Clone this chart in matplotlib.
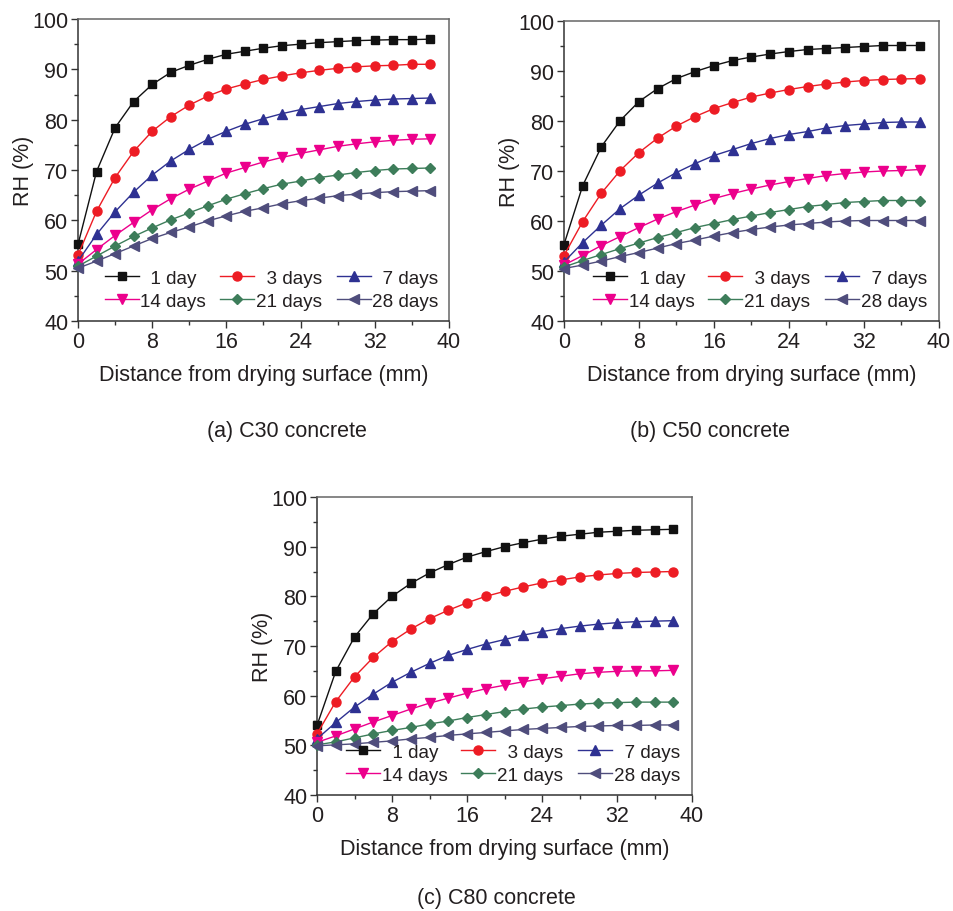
import matplotlib
matplotlib.use("Agg")
import matplotlib.pyplot as plt
from matplotlib.ticker import MultipleLocator

# distance from drying surface (mm)
distance = [0, 2, 4, 6, 8, 10, 12, 14, 16, 18, 20, 22, 24, 26, 28, 30, 32, 34, 36, 38]
ages = ["1 day", "3 days", "7 days", "14 days", "21 days", "28 days"]

c30_rh = [
    [55.2, 69.7, 78.4, 83.6, 87.0, 89.4, 90.8, 92.0, 93.0, 93.6, 94.2, 94.7, 95.0, 95.3, 95.5, 95.7, 95.8, 95.9, 95.9, 96.0],
    [53.1, 61.8, 68.5, 73.7, 77.7, 80.6, 82.9, 84.7, 86.1, 87.1, 88.0, 88.7, 89.3, 89.8, 90.2, 90.5, 90.7, 90.8, 91.0, 91.0],
    [51.9, 57.2, 61.7, 65.6, 69.0, 71.8, 74.1, 76.1, 77.7, 79.1, 80.2, 81.2, 82.0, 82.6, 83.2, 83.6, 83.9, 84.1, 84.2, 84.3],
    [51.3, 54.2, 57.0, 59.6, 62.1, 64.3, 66.2, 67.8, 69.4, 70.5, 71.6, 72.5, 73.3, 74.0, 74.7, 75.2, 75.6, 75.9, 76.1, 76.2],
    [50.9, 52.9, 54.9, 56.8, 58.5, 60.1, 61.5, 62.9, 64.2, 65.3, 66.3, 67.2, 67.8, 68.5, 69.0, 69.5, 69.9, 70.2, 70.3, 70.4],
    [50.5, 51.9, 53.4, 54.9, 56.4, 57.6, 58.7, 59.9, 60.9, 61.8, 62.5, 63.3, 63.9, 64.4, 64.9, 65.2, 65.5, 65.7, 65.8, 65.9],
]

c50_rh = [
    [55.3, 67.1, 74.9, 80.1, 83.9, 86.5, 88.5, 89.9, 91.1, 92.1, 92.8, 93.4, 93.9, 94.3, 94.5, 94.7, 94.9, 95.1, 95.1, 95.1],
    [53.1, 59.9, 65.6, 70.1, 73.7, 76.6, 79.0, 80.9, 82.5, 83.7, 84.8, 85.6, 86.3, 86.9, 87.4, 87.8, 88.1, 88.3, 88.4, 88.5],
    [51.8, 55.7, 59.2, 62.5, 65.2, 67.6, 69.7, 71.5, 73.1, 74.3, 75.5, 76.5, 77.3, 77.9, 78.6, 79.1, 79.4, 79.7, 79.8, 79.8],
    [51.2, 53.1, 55.1, 56.9, 58.7, 60.4, 61.9, 63.2, 64.5, 65.5, 66.4, 67.2, 67.9, 68.5, 69.1, 69.5, 69.8, 70.0, 70.1, 70.3],
    [50.8, 52.1, 53.3, 54.5, 55.6, 56.7, 57.7, 58.7, 59.5, 60.3, 61.0, 61.7, 62.3, 62.9, 63.3, 63.7, 63.9, 64.1, 64.1, 64.1],
    [50.5, 51.2, 52.0, 52.9, 53.7, 54.6, 55.5, 56.2, 57.0, 57.7, 58.3, 58.8, 59.2, 59.5, 59.8, 60.0, 60.1, 60.1, 60.1, 60.1],
]

c80_rh = [
    [54.0, 64.9, 71.8, 76.5, 80.0, 82.6, 84.7, 86.4, 87.9, 89.0, 90.0, 90.8, 91.5, 92.1, 92.5, 92.9, 93.1, 93.3, 93.4, 93.5],
    [52.3, 58.8, 63.8, 67.7, 70.9, 73.4, 75.5, 77.2, 78.7, 80.0, 81.0, 81.9, 82.7, 83.3, 83.9, 84.3, 84.6, 84.8, 84.9, 85.0],
    [51.3, 54.6, 57.7, 60.3, 62.7, 64.7, 66.5, 68.1, 69.3, 70.4, 71.3, 72.2, 72.9, 73.5, 74.0, 74.4, 74.7, 74.9, 75.0, 75.1],
    [50.6, 51.9, 53.3, 54.7, 56.0, 57.3, 58.5, 59.5, 60.5, 61.4, 62.1, 62.8, 63.4, 63.9, 64.4, 64.7, 64.9, 65.0, 65.0, 65.1],
    [50.1, 50.7, 51.5, 52.3, 53.0, 53.6, 54.3, 54.9, 55.6, 56.2, 56.8, 57.3, 57.7, 58.0, 58.3, 58.5, 58.6, 58.7, 58.7, 58.7],
    [49.9, 50.1, 50.3, 50.6, 50.9, 51.3, 51.6, 52.0, 52.3, 52.6, 52.9, 53.2, 53.4, 53.6, 53.8, 53.9, 54.0, 54.0, 54.1, 54.1],
]

COLORS = ["#111111", "#ed1c24", "#2e3192", "#ec008c", "#3d7d5a", "#4f4d7c"]
MARKERS = ["s", "o", "^", "v", "D", "<"]
MSIZES = [6.0, 6.5, 6.5, 6.5, 5.5, 6.5]
TEXT_COLOR = "#231f20"
FONT_SIZE = 15.5
LEGEND_SIZE = 13.6

plt.rcParams.update({
    "font.family": ["Liberation Sans", "DejaVu Sans"],
    "font.size": FONT_SIZE,
    "text.color": TEXT_COLOR,
    "axes.labelcolor": TEXT_COLOR,
    "xtick.color": "#333333",
    "ytick.color": "#333333",
    "xtick.labelcolor": TEXT_COLOR,
    "ytick.labelcolor": TEXT_COLOR,
})


def plot_panel(ax, rh_sets):
    lines = []
    for i, rh in enumerate(rh_sets):
        label = ("  " + ages[i]) if i < 3 else ages[i]
        line, = ax.plot(distance, rh, color=COLORS[i], marker=MARKERS[i], markersize=MSIZES[i],
                        linewidth=1.0, label=label, clip_on=False, zorder=3)
        lines.append(line)
    ax.set_xlim(0, 40)
    ax.set_ylim(40, 100)
    ax.xaxis.set_major_locator(MultipleLocator(8))
    ax.xaxis.set_minor_locator(MultipleLocator(4))
    ax.yaxis.set_major_locator(MultipleLocator(10))
    ax.yaxis.set_minor_locator(MultipleLocator(5))
    ax.tick_params(which="major", direction="out", length=5, width=1.0, pad=2)
    ax.tick_params(which="minor", direction="out", length=3, width=1.0)
    for side in ["left", "bottom"]:
        ax.spines[side].set_color("#333333")
        ax.spines[side].set_linewidth(1.1)
    for side in ["top", "right"]:
        ax.spines[side].set_color("#666666")
        ax.spines[side].set_linewidth(1.1)
    ax.set_xlabel("Distance from drying surface (mm)", labelpad=9)
    ax.set_ylabel("RH (%)", labelpad=-1.5)
    # legend fills row-wise: 1, 3, 7 days on top; 14, 21, 28 days below
    order = [0, 3, 1, 4, 2, 5]
    ax.legend([lines[k] for k in order], [lines[k].get_label() for k in order],
              loc="lower center", bbox_to_anchor=(0.522, 0.012), ncol=3, frameon=False,
              handlelength=1.8, handletextpad=0.1, columnspacing=0.75, labelspacing=0.32,
              fontsize=LEGEND_SIZE, borderaxespad=0.0)


W, H = 954, 912
fig = plt.figure(figsize=(W / 100, H / 100), dpi=100)

ax_a = fig.add_axes([78 / W, 1 - 322 / H, 371 / W, 302 / H])
ax_b = fig.add_axes([564 / W, 1 - 322 / H, 375 / W, 300 / H])
ax_c = fig.add_axes([317 / W, 1 - 796 / H, 375 / W, 298 / H])

plot_panel(ax_a, c30_rh)
plot_panel(ax_b, c50_rh)
plot_panel(ax_c, c80_rh)

fig.text(287 / W, 1 - 432 / H, "(a) C30 concrete", ha="center", va="center", fontsize=FONT_SIZE)
fig.text(710 / W, 1 - 432 / H, "(b) C50 concrete", ha="center", va="center", fontsize=FONT_SIZE)
fig.text(496 / W, 1 - 899 / H, "(c) C80 concrete", ha="center", va="center", fontsize=FONT_SIZE)

fig.savefig("out.png", dpi=100)
